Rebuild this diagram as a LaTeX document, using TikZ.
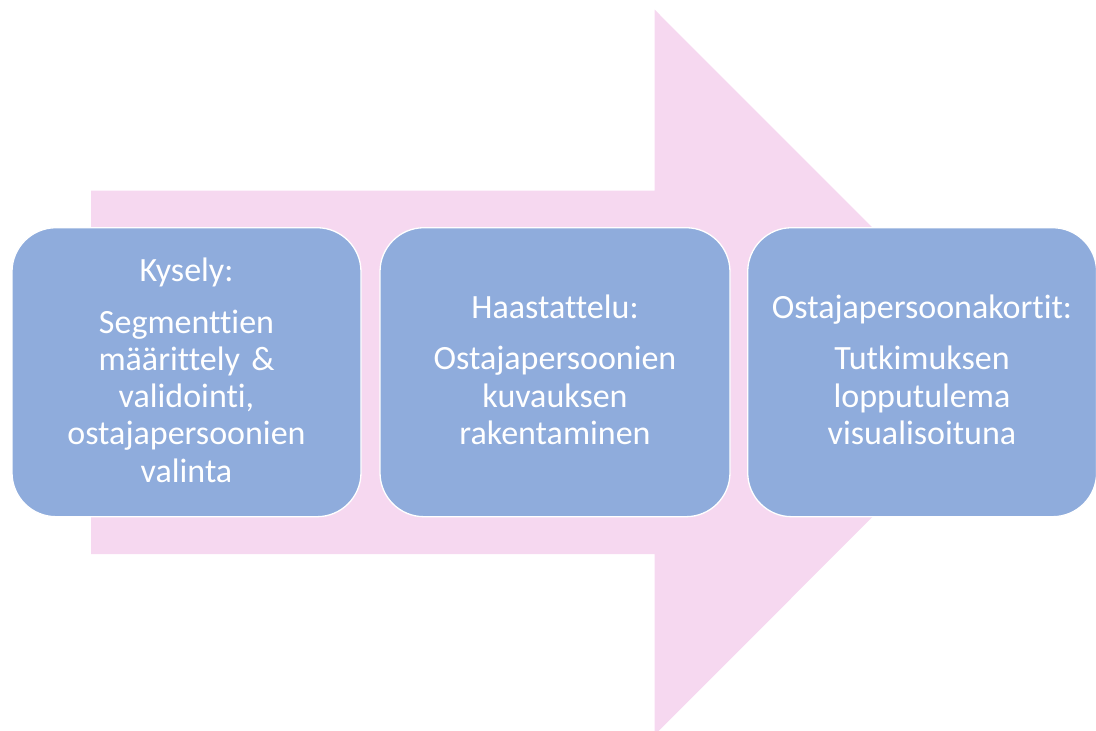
\documentclass[tikz,border=0pt]{standalone}
\usepackage{fontspec}
\setmainfont{Carlito}[RawFeature={-liga}]
\definecolor{arrowpink}{HTML}{F6D8F0}
\definecolor{boxblue}{HTML}{8FACDC}
\begin{document}
\begin{tikzpicture}[x=1pt,y=-1pt,
  stagebox/.style={draw=white, line width=1.3pt, fill=boxblue, rounded corners=44pt},
  stagetext/.style={text=white, text width=345pt, align=center, anchor=base, inner sep=0pt,
    font=\fontsize{34}{37.3}\selectfont}]
\useasboundingbox (0,0) rectangle (1096,731);
\clip (0,0) rectangle (1096,731);
% big arrow
\fill[arrowpink] (91,190.7) -- (654.5,190.7) -- (654.5,9.5) -- (1017,372.3)
  -- (654.5,735.1) -- (654.5,554) -- (91,554) -- cycle;
% boxes
\path[stagebox] (12,227.7) rectangle (361,516.7);
\path[stagebox] (380,227.7) rectangle (730,516.7);
\path[stagebox] (747.7,227.7) rectangle (1096.6,516.7);
\node[stagetext] (t1) at (186.5,281.7) {Kysely:\\[14pt]Segmenttien\\määrittely \&\\validointi,\\ostajapersoonien\\valinta};
\node[stagetext] (t2) at (555,318.5) {Haastattelu:\\[14pt]Ostajapersoonien\\kuvauksen\\rakentaminen};
\node[stagetext] (t3) at (922,318.5) {Ostajapersoonakortit:\\[14pt]Tutkimuksen\\lopputulema\\visualisoituna};
\end{tikzpicture}
\end{document}
